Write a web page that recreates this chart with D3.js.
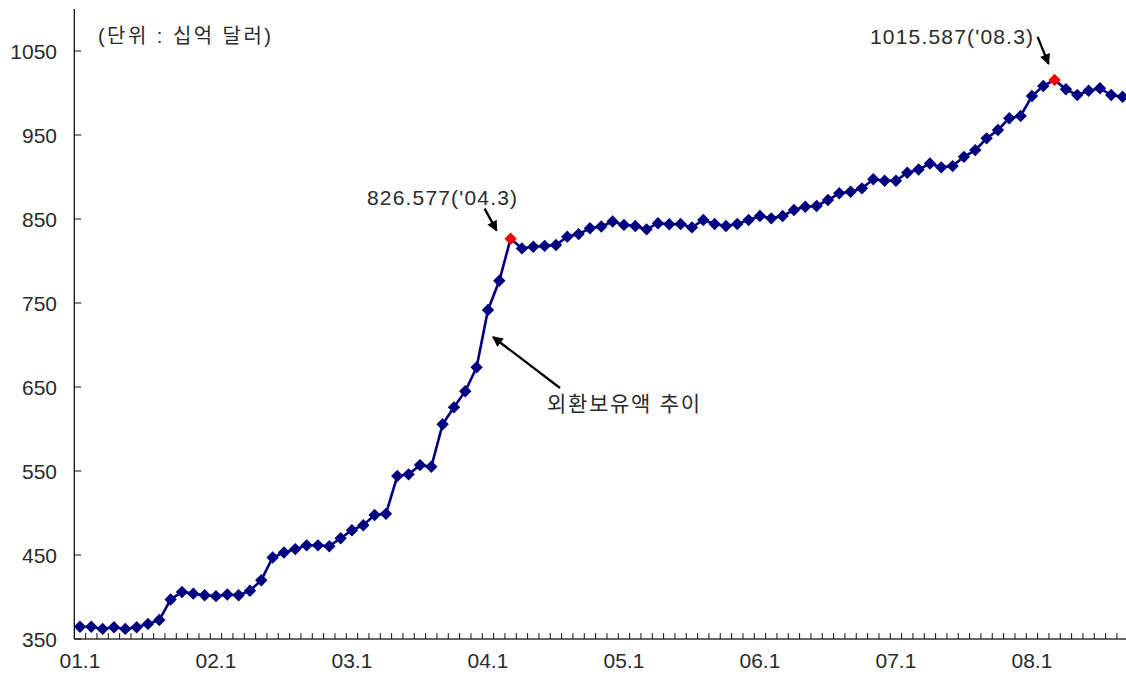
<!DOCTYPE html>
<html>
<head>
<meta charset="utf-8">
<script src="https://cdn.jsdelivr.net/npm/d3@7/dist/d3.min.js"></script>
<style>
  html, body { margin: 0; padding: 0; background: #fff; }
  svg { display: block; }
  text { font-family: "Liberation Sans", "Noto Sans CJK KR", sans-serif; fill: #2a2a2a; }
</style>
</head>
<body>
<svg id="chart" width="1126" height="675"></svg>
<script>
const categories = [
  "01.1","01.2","01.3","01.4","01.5","01.6","01.7","01.8","01.9","01.10","01.11","01.12",
  "02.1","02.2","02.3","02.4","02.5","02.6","02.7","02.8","02.9","02.10","02.11","02.12",
  "03.1","03.2","03.3","03.4","03.5","03.6","03.7","03.8","03.9","03.10","03.11","03.12",
  "04.1","04.2","04.3","04.4","04.5","04.6","04.7","04.8","04.9","04.10","04.11","04.12",
  "05.1","05.2","05.3","05.4","05.5","05.6","05.7","05.8","05.9","05.10","05.11","05.12",
  "06.1","06.2","06.3","06.4","06.5","06.6","06.7","06.8","06.9","06.10","06.11","06.12",
  "07.1","07.2","07.3","07.4","07.5","07.6","07.7","07.8","07.9","07.10","07.11","07.12",
  "08.1","08.2","08.3","08.4","08.5","08.6","08.7","08.8","08.9"
];
const reserves = [
  364.6, 364.6, 362.0, 364.0, 362.0, 364.0, 368.0, 372.6, 397.0, 406.0, 404.0, 402.0,
  401.0, 403.0, 402.0, 407.5, 420.0, 447.0, 453.0, 457.0, 461.5, 461.5, 460.5, 470.0,
  479.5, 485.5, 497.6, 499.0, 544.0, 546.0, 557.0, 555.0, 605.6, 625.8, 645.0, 673.4,
  741.7, 776.5, 826.577, 815.0, 817.0, 818.0, 819.0, 829.0, 832.0, 839.0, 841.0, 847.0,
  843.0, 841.7, 837.7, 845.0, 843.7, 844.0, 840.0, 848.8, 844.0, 841.7, 844.0, 848.8,
  853.6, 850.8, 853.6, 860.7, 864.6, 865.5, 872.6, 880.6, 882.5, 886.5, 897.3, 895.6,
  895.6, 905.0, 909.0, 916.0, 911.5, 913.0, 924.0, 932.0, 946.0, 956.0, 970.0, 972.6,
  996.4, 1008.3, 1015.587, 1004.4, 997.6, 1002.7, 1005.6, 997.6, 995.6
];
const xTickLabels = ["01.1","02.1","03.1","04.1","05.1","06.1","07.1","08.1"];
const yTicks = [350, 450, 550, 650, 750, 850, 950, 1050];
const highlights = ["04.3", "08.3"];
const unitLabel = "(단위 : 십억 달러)";
const seriesLabel = "외환보유액 추이";
const peakLabels = ["826.577('04.3)", "1015.587('08.3)"];

const svg = d3.select("#chart");
const plotLeft = 74.3, plotTop = 9, plotBottom = 639;
const band = 11.333;
const x = d3.scaleBand().domain(categories).range([plotLeft, plotLeft + band * categories.length]).padding(0);
const y = d3.scaleLinear().domain([350, 1100]).range([plotBottom, plotTop]);
const cx = c => x(c) + x.bandwidth() / 2;

// x axis line
svg.append("line").attr("x1", plotLeft).attr("x2", 1126).attr("y1", plotBottom).attr("y2", plotBottom)
  .attr("stroke", "#333").attr("stroke-width", 1.5);
// x ticks at band boundaries (inside)
const boundaries = categories.map(c => x(c));
svg.append("g").selectAll("line").data(boundaries.slice(1)).join("line")
  .attr("x1", d => d).attr("x2", d => d).attr("y1", plotBottom).attr("y2", plotBottom - 6)
  .attr("stroke", "#111").attr("stroke-width", 1);
svg.append("g").selectAll("text").data(xTickLabels).join("text")
  .attr("x", d => cx(d)).attr("y", 668).attr("text-anchor", "middle")
  .attr("font-size", 21).text(d => d);

// y axis
svg.append("line").attr("x1", plotLeft).attr("x2", plotLeft).attr("y1", plotTop).attr("y2", plotBottom)
  .attr("stroke", "#111").attr("stroke-width", 1.3);
svg.append("g").selectAll("line").data(yTicks).join("line")
  .attr("x1", plotLeft).attr("x2", plotLeft + 7).attr("y1", d => y(d)).attr("y2", d => y(d))
  .attr("stroke", "#111").attr("stroke-width", 1);
svg.append("g").selectAll("text").data(yTicks).join("text")
  .attr("x", 57).attr("y", d => y(d) + 8).attr("text-anchor", "end")
  .attr("font-size", 21).text(d => d);

// Line
const data = categories.map((c, i) => ({ c, v: reserves[i] }));
svg.append("path").datum(data)
  .attr("fill", "none").attr("stroke", "#000080").attr("stroke-width", 2.6)
  .attr("d", d3.line().x(d => cx(d.c)).y(d => y(d.v)));

// Markers
const diamond = "M0,-6.2L6.2,0L0,6.2L-6.2,0Z";
svg.append("g").selectAll("path").data(data).join("path")
  .attr("d", diamond)
  .attr("transform", d => `translate(${cx(d.c)},${y(d.v)})`)
  .attr("fill", d => highlights.includes(d.c) ? "#ff0000" : "#000080");

// Annotations
svg.append("defs").append("marker").attr("id", "ah")
  .attr("viewBox", "0 0 10 10").attr("refX", 9).attr("refY", 5)
  .attr("markerWidth", 5).attr("markerHeight", 4.6).attr("orient", "auto")
  .append("path").attr("d", "M0,0L10,5L0,10Z").attr("fill", "#000");

svg.append("text").attr("x", 98).attr("y", 43).attr("font-size", 20)
  .attr("textLength", 173).attr("lengthAdjust", "spacing").text(unitLabel);

const p1 = data[categories.indexOf("04.3")];
const p2 = data[categories.indexOf("08.3")];
svg.append("text").attr("x", 367).attr("y", 205).attr("font-size", 21)
  .attr("textLength", 150).attr("lengthAdjust", "spacing").text(peakLabels[0]);
svg.append("line").attr("x1", cx(p1.c) - 26).attr("y1", y(p1.v) - 30)
  .attr("x2", cx(p1.c) - 14).attr("y2", y(p1.v) - 8)
  .attr("stroke", "#000").attr("stroke-width", 2.3).attr("marker-end", "url(#ah)");

svg.append("text").attr("x", 870).attr("y", 44).attr("font-size", 21)
  .attr("textLength", 163).attr("lengthAdjust", "spacing").text(peakLabels[1]);
svg.append("line").attr("x1", cx(p2.c) - 17).attr("y1", y(p2.v) - 43)
  .attr("x2", cx(p2.c) - 6).attr("y2", y(p2.v) - 16)
  .attr("stroke", "#000").attr("stroke-width", 2.3).attr("marker-end", "url(#ah)");

const p3 = data[categories.indexOf("04.1")];
svg.append("text").attr("x", 547).attr("y", 411).attr("font-size", 21)
  .attr("textLength", 153).attr("lengthAdjust", "spacing").text(seriesLabel);
svg.append("line").attr("x1", 560).attr("y1", 388)
  .attr("x2", cx(p3.c) + 5).attr("y2", y(p3.v) + 27)
  .attr("stroke", "#000").attr("stroke-width", 2.3).attr("marker-end", "url(#ah)");
</script>
</body>
</html>
